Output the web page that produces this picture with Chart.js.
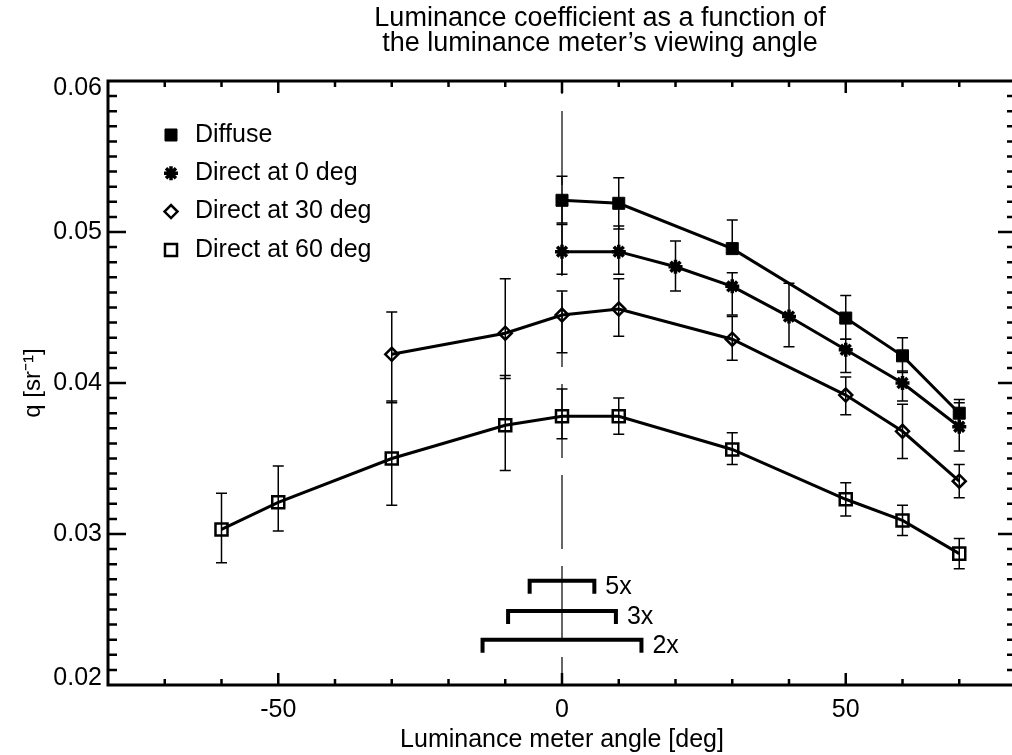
<!DOCTYPE html>
<html>
<head>
<meta charset="utf-8">
<script src="https://cdn.jsdelivr.net/npm/chart.js@4.4.1/dist/chart.umd.min.js"></script>
<style>
  html, body { margin: 0; padding: 0; overflow: hidden; background: #fff; }
  canvas { display: block; }
</style>
</head>
<body>
<canvas id="grafico" width="1200" height="755"></canvas>
<script>
/// datos ///

const series = ['Diffuse', 'Direct at 0 deg', 'Direct at 30 deg', 'Direct at 60 deg'];

const diffuseAngle = [0, 10, 30, 50, 60, 70];
const diffuseQ     = [0.0521, 0.0519, 0.0489, 0.0443, 0.0418, 0.0380];
const diffuseHi    = [0.0537, 0.0536, 0.0508, 0.0458, 0.0430, 0.0389];
const diffuseLo    = [0.0506, 0.0502, 0.0486, 0.0429, 0.0407, 0.0372];

const direct0Angle = [0, 10, 20, 30, 40, 50, 60, 70];
const direct0Q     = [0.0487, 0.0487, 0.0477, 0.0464, 0.0444, 0.0422, 0.0400, 0.0371];
const direct0Hi    = [0.0505, 0.0504, 0.0494, 0.0473, 0.0466, 0.0429, 0.0408, 0.0387];
const direct0Lo    = [0.0472, 0.0472, 0.0461, 0.0445, 0.0424, 0.0407, 0.0388, 0.0355];

const direct30Angle = [-30, -10, 0, 10, 30, 50, 60, 70];
const direct30Q     = [0.0419, 0.0433, 0.0445, 0.0449, 0.0429, 0.0392, 0.0368, 0.0335];
const direct30Hi    = [0.0447, 0.0469, 0.0461, 0.0469, 0.0444, 0.0404, 0.0386, 0.0346];
const direct30Lo    = [0.0387, 0.0403, 0.0420, 0.0431, 0.0415, 0.0379, 0.0350, 0.0324];

const direct60Angle = [-60, -50, -30, -10, 0, 10, 30, 50, 60, 70];
const direct60Q     = [0.0303, 0.0321, 0.0350, 0.0372, 0.0378, 0.0378, 0.0356, 0.0323, 0.0309, 0.0287];
const direct60Hi    = [0.0327, 0.0345, 0.0388, 0.0405, 0.0396, 0.0390, 0.0367, 0.0334, 0.0319, 0.0297];
const direct60Lo    = [0.0281, 0.0302, 0.0319, 0.0342, 0.0363, 0.0366, 0.0346, 0.0312, 0.0299, 0.0277];

// campo de vision del luminancimetro (semiancho en grados)
const lupaEtiquetas = ['5x', '3x', '2x'];
const lupaSemiancho = [5.7, 9.5, 14];
const lupaNivel     = [0.0269, 0.0249, 0.0230];

const xMarcas = [-50, 0, 50];
const yMarcas = [0.02, 0.03, 0.04, 0.05, 0.06];
const yEtiquetas = ['0.02', '0.03', '0.04', '0.05', '0.06'];

//////////////

const FUENTE = "'Liberation Sans', Arial, Helvetica, sans-serif";

function puntos(xs, ys) {
    return xs.map((x, i) => ({ x: x, y: ys[i] }));
}

const errores = [
    { hi: diffuseHi, lo: diffuseLo },
    { hi: direct0Hi, lo: direct0Lo },
    { hi: direct30Hi, lo: direct30Lo },
    { hi: direct60Hi, lo: direct60Lo }
];

const estilos = [
    { pointStyle: 'rect', pointRadius: 8.5, pointBackgroundColor: '#000', pointBorderWidth: 1 },
    { pointStyle: 'star', pointRadius: 7, pointBackgroundColor: '#000', pointBorderWidth: 3.5 },
    { pointStyle: 'rectRot', pointRadius: 6.5, pointBackgroundColor: 'rgba(0,0,0,0)', pointBorderWidth: 2.5 },
    { pointStyle: 'rect', pointRadius: 8.5, pointBackgroundColor: 'rgba(0,0,0,0)', pointBorderWidth: 2.5 }
];

const valores = [
    puntos(diffuseAngle, diffuseQ),
    puntos(direct0Angle, direct0Q),
    puntos(direct30Angle, direct30Q),
    puntos(direct60Angle, direct60Q)
];

const datasets = series.map((nombre, i) => Object.assign({
    label: nombre,
    data: valores[i],
    showLine: true,
    borderColor: '#000',
    borderWidth: 3,
    pointBorderColor: '#000',
    pointHoverRadius: estilos[i].pointRadius
}, estilos[i]));

// marco, marcas menores, barras de error, leyenda y campos de vision
const marco = {
    id: 'marco',
    beforeDatasetsDraw(chart) {
        const ctx = chart.ctx;
        const a = chart.chartArea;
        const x0 = chart.scales.x.getPixelForValue(0);
        ctx.save();
        ctx.strokeStyle = '#000';
        ctx.lineWidth = 1.2;
        ctx.setLineDash([74, 17]);
        ctx.lineDashOffset = 46;
        ctx.beginPath();
        ctx.moveTo(x0, a.bottom);
        ctx.lineTo(x0, a.top);
        ctx.stroke();
        ctx.restore();
    },
    afterDatasetsDraw(chart) {
        const ctx = chart.ctx;
        const xs = chart.scales.x;
        const ys = chart.scales.y;
        ctx.save();
        ctx.strokeStyle = '#000';
        ctx.lineWidth = 1.5;
        chart.data.datasets.forEach((ds, i) => {
            const e = errores[i];
            ds.data.forEach((p, j) => {
                const x = xs.getPixelForValue(p.x);
                const y1 = ys.getPixelForValue(e.hi[j]);
                const y2 = ys.getPixelForValue(e.lo[j]);
                ctx.beginPath();
                ctx.moveTo(x, y1); ctx.lineTo(x, y2);
                ctx.moveTo(x - 5.5, y1); ctx.lineTo(x + 5.5, y1);
                ctx.moveTo(x - 5.5, y2); ctx.lineTo(x + 5.5, y2);
                ctx.stroke();
            });
        });
        ctx.restore();
    },
    afterDraw(chart) {
        const ctx = chart.ctx;
        const a = chart.chartArea;
        const xs = chart.scales.x;
        const ys = chart.scales.y;
        ctx.save();
        ctx.strokeStyle = '#000';
        ctx.fillStyle = '#000';

        // ejes
        ctx.lineWidth = 3;
        ctx.strokeRect(a.left, a.top, a.right - a.left, a.bottom - a.top);

        // marcas hacia adentro en los cuatro lados
        ctx.lineWidth = 2.5;
        ctx.beginPath();
        for (let v = -70; v <= 70; v += 10) {
            const x = xs.getPixelForValue(v);
            const l = xMarcas.includes(v) ? 12 : 6;
            ctx.moveTo(x, a.bottom); ctx.lineTo(x, a.bottom - l);
            ctx.moveTo(x, a.top); ctx.lineTo(x, a.top + l);
        }
        for (let k = 21; k < 60; k++) {
            const y = ys.getPixelForValue(k / 1000);
            const l = (k % 10 === 0) ? 18 : 9;
            ctx.moveTo(a.left, y); ctx.lineTo(a.left + l, y);
            ctx.moveTo(a.right, y); ctx.lineTo(a.right - l, y);
        }
        ctx.stroke();

        // campos de vision
        ctx.lineWidth = 4;
        ctx.font = '25px ' + FUENTE;
        ctx.textBaseline = 'middle';
        ctx.textAlign = 'left';
        lupaEtiquetas.forEach((txt, i) => {
            const xa = xs.getPixelForValue(-lupaSemiancho[i]);
            const xb = xs.getPixelForValue(lupaSemiancho[i]);
            const y = ys.getPixelForValue(lupaNivel[i]);
            ctx.beginPath();
            ctx.moveTo(xa, y + 13); ctx.lineTo(xa, y);
            ctx.lineTo(xb, y); ctx.lineTo(xb, y + 13);
            ctx.stroke();
            ctx.fillText(txt, xb + 11, y + 6.5);
        });

        // leyenda
        chart.data.datasets.forEach((ds, i) => {
            const y = a.top + 54 + i * 38.3;
            const x = a.left + 63;
            ctx.save();
            ctx.fillStyle = ds.pointBackgroundColor;
            ctx.strokeStyle = '#000';
            ctx.lineWidth = ds.pointBorderWidth;
            Chart.helpers.drawPoint(ctx, {
                pointStyle: ds.pointStyle,
                radius: ds.pointRadius,
                borderWidth: ds.pointBorderWidth,
                rotation: 0
            }, x, y);
            ctx.restore();
            ctx.fillText(ds.label, a.left + 87, y);
        });
        ctx.restore();
    }
};

new Chart(document.getElementById('grafico'), {
    type: 'scatter',
    data: { datasets: datasets },
    options: {
        responsive: false,
        animation: false,
        devicePixelRatio: 1,
        layout: { padding: 0 },
        plugins: {
            legend: { display: false },
            tooltip: { enabled: false },
            title: {
                display: true,
                text: ['Luminance coefficient as a function of', 'the luminance meter\u2019s viewing angle'],
                color: '#000',
                font: { family: FUENTE, size: 27, weight: 'normal', lineHeight: 0.926 },
                padding: { top: 6.5, bottom: 24.5 }
            }
        },
        scales: {
            x: {
                type: 'linear',
                position: 'bottom',
                min: -80,
                max: 80,
                afterBuildTicks: s => { s.ticks = xMarcas.map(v => ({ value: v })); },
                afterFit: s => { s.height = 70; },
                grid: { display: false, drawTicks: false },
                border: { display: false },
                ticks: {
                    color: '#000',
                    autoSkip: false,
                    maxRotation: 0,
                    padding: 10,
                    font: { family: FUENTE, size: 25, lineHeight: 1.2 },
                    callback: v => String(v)
                },
                title: {
                    display: true,
                    text: 'Luminance meter angle [deg]',
                    color: '#000',
                    font: { family: FUENTE, size: 25, lineHeight: 1.2 },
                    padding: { top: 0, bottom: 0 }
                }
            },
            y: {
                type: 'linear',
                position: 'left',
                min: 0.02,
                max: 0.06,
                afterBuildTicks: s => { s.ticks = yMarcas.map(v => ({ value: v })); },
                afterFit: s => { s.width = 108; },
                grid: { display: false, drawTicks: false },
                border: { display: false },
                ticks: {
                    color: '#000',
                    padding: 6,
                    font: { family: FUENTE, size: 25, lineHeight: 0.58 },
                    callback: (v, i) => {
                        // las etiquetas extremas quedan corridas hacia adentro
                        if (i === 0) return [yEtiquetas[i], ''];
                        if (i === yMarcas.length - 1) return ['', yEtiquetas[i]];
                        return yEtiquetas[i];
                    }
                },
                title: {
                    display: true,
                    text: 'q [sr\u207B\u00B9]',
                    color: '#000',
                    font: { family: FUENTE, size: 24, lineHeight: 1.2 },
                    padding: { top: 19, bottom: 0 }
                }
            },
            y2: {
                type: 'linear',
                position: 'right',
                display: true,
                afterFit: s => { s.width = 184; },
                grid: { display: false, drawTicks: false },
                border: { display: false },
                ticks: { display: false }
            }
        }
    },
    plugins: [marco]
});
</script>
</body>
</html>
